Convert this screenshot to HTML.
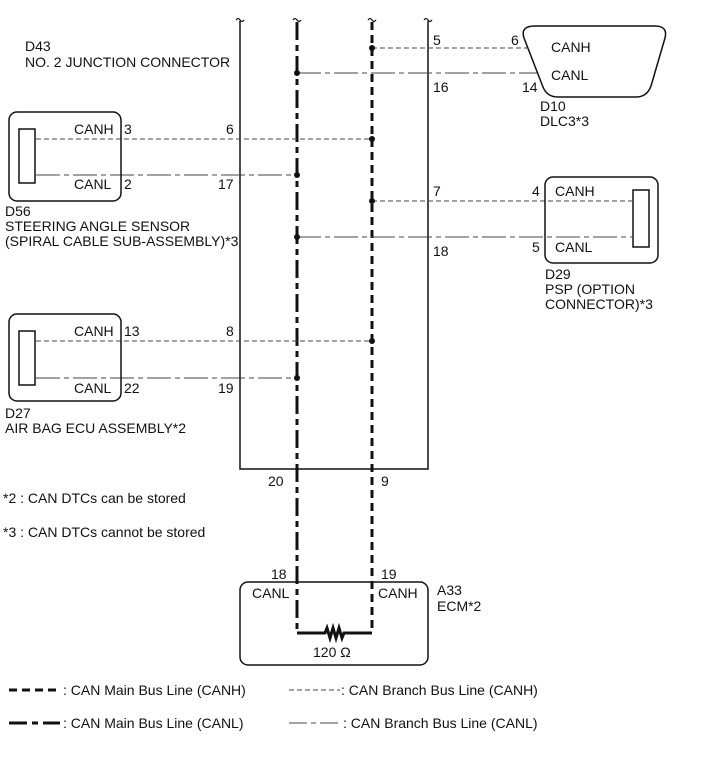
<!DOCTYPE html>
<html><head><meta charset="utf-8"><style>
html,body{margin:0;padding:0;background:#fff}
svg{display:block}
text{font-family:"Liberation Sans",Arial,sans-serif;font-size:14px;fill:#111}
</style></head><body>
<svg width="711" height="781" viewBox="0 0 711 781" xmlns="http://www.w3.org/2000/svg">
<g fill="none" stroke="#111">
<path d="M236 20 q2 -3 4 0 q2 3 4 0 M293 20 q2 -3 4 0 q2 3 4 0 M368 20 q2 -3 4 0 q2 3 4 0 M424 20 q2 -3 4 0 q2 3 4 0" stroke-width="1.2"/>
<path d="M240 21 V469 H428 V21" stroke-width="1.5"/>
<path d="M297 22 V633" stroke-width="3" stroke-dasharray="18 5 6 5"/>
<path d="M372 22 V633" stroke-width="3" stroke-dasharray="8 5"/>
<g stroke="#444" stroke-width="1.1" stroke-dasharray="5 3">
<path d="M372 48 H527"/>
<path d="M36 139 H372"/>
<path d="M372 201 H632"/>
<path d="M36 341 H372"/>
</g>
<g stroke="#444" stroke-width="1.1" stroke-dasharray="24 4 5 4">
<path d="M297 73 H538"/>
<path d="M36 175 H297"/>
<path d="M297 237 H632"/>
<path d="M36 378 H297"/>
</g>
<rect x="9" y="112" width="112" height="89" rx="8" stroke-width="1.5"/>
<rect x="19" y="129" width="16" height="54" stroke-width="1.5"/>
<rect x="9" y="314" width="112" height="87" rx="8" stroke-width="1.5"/>
<rect x="19" y="331" width="16" height="54" stroke-width="1.5"/>
<rect x="545" y="177" width="113" height="86" rx="8" stroke-width="1.5"/>
<rect x="633" y="190" width="16" height="57" stroke-width="1.5"/>
<path d="M535 26 H655 Q668 26 665 38 L651 86 Q647 97 636 97 H558 Q547 97 543 87 L524 38 Q520 26 535 26 Z" stroke-width="1.5"/>
<rect x="240" y="582" width="188" height="83" rx="8" stroke-width="1.5"/>
<path d="M297 633 H325 l2 -5 l3 10 l3 -10 l3 10 l3 -10 l3 10 l2 -5 H372" stroke-width="3"/>
<path d="M9 690 H60" stroke-width="3" stroke-dasharray="8 5"/>
<path d="M9 723 H60" stroke-width="3" stroke-dasharray="18 5 6 5"/>
<path d="M289 690 H340" stroke="#444" stroke-width="1.1" stroke-dasharray="5 3"/>
<path d="M289 723 H340" stroke="#444" stroke-width="1.1" stroke-dasharray="18 4 5 4"/>
</g>
<g fill="#111">
<circle cx="372" cy="48" r="3"/><circle cx="297" cy="73" r="3"/>
<circle cx="372" cy="139" r="3"/><circle cx="297" cy="175" r="3"/>
<circle cx="372" cy="201" r="3"/><circle cx="297" cy="237" r="3"/>
<circle cx="372" cy="341" r="3"/><circle cx="297" cy="378" r="3"/>
</g>
<text x="25" y="51">D43</text>
<text x="25" y="67">NO. 2 JUNCTION CONNECTOR</text>
<text x="433" y="45">5</text><text x="433" y="92">16</text>
<text x="511" y="45">6</text><text x="522" y="92">14</text>
<text x="551" y="52">CANH</text><text x="551" y="80">CANL</text>
<text x="540" y="111">D10</text><text x="540" y="126">DLC3*3</text>
<text x="74" y="134">CANH</text><text x="124" y="134">3</text>
<text x="74" y="189">CANL</text><text x="124" y="189">2</text>
<text x="226" y="134">6</text><text x="218" y="189">17</text>
<text x="5" y="216">D56</text>
<text x="5" y="231">STEERING ANGLE SENSOR</text>
<text x="5" y="246">(SPIRAL CABLE SUB-ASSEMBLY)*3</text>
<text x="433" y="196">7</text><text x="433" y="256">18</text>
<text x="532" y="196">4</text><text x="532" y="252">5</text>
<text x="555" y="196">CANH</text><text x="555" y="252">CANL</text>
<text x="545" y="279">D29</text><text x="545" y="294">PSP (OPTION</text><text x="545" y="309">CONNECTOR)*3</text>
<text x="74" y="336">CANH</text><text x="124" y="336">13</text>
<text x="74" y="393">CANL</text><text x="124" y="393">22</text>
<text x="226" y="336">8</text><text x="218" y="393">19</text>
<text x="5" y="418">D27</text><text x="5" y="433">AIR BAG ECU ASSEMBLY*2</text>
<text x="268" y="486">20</text><text x="381" y="486">9</text>
<text x="3" y="503">*2 : CAN DTCs can be stored</text>
<text x="3" y="537">*3 : CAN DTCs cannot be stored</text>
<text x="271" y="579">18</text><text x="381" y="579">19</text>
<text x="252" y="598">CANL</text><text x="378" y="598">CANH</text>
<text x="437" y="595">A33</text><text x="437" y="611">ECM*2</text>
<text x="313" y="657">120 Ω</text>
<text x="63" y="695">: CAN Main Bus Line (CANH)</text>
<text x="63" y="728">: CAN Main Bus Line (CANL)</text>
<text x="341" y="695">: CAN Branch Bus Line (CANH)</text>
<text x="343" y="728">: CAN Branch Bus Line (CANL)</text>
</svg>
</body></html>
